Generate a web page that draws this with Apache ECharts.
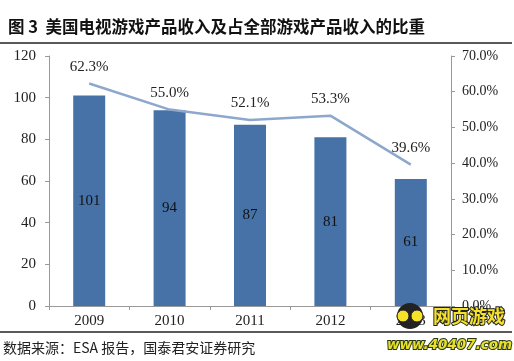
<!DOCTYPE html>
<html><head><meta charset="utf-8">
<script src="https://cdn.jsdelivr.net/npm/echarts@6/dist/echarts.min.js"></script>
<style>html,body{margin:0;padding:0;background:#fff}#c{width:514px;height:361px}</style>
</head><body><div id="c"></div>
<script>
const categories = ['2009','2010','2011','2012','2013'];
const revenue = [101, 94, 87, 81, 61];
const share = [62.3, 55.0, 52.1, 53.3, 39.6];
const leftTicks = [0, 20, 40, 60, 80, 100, 120];
const rightTicks = [0, 10, 20, 30, 40, 50, 60, 70];

const serif = '"Liberation Serif","DejaVu Serif",serif';
const cjk = '"Noto Sans CJK SC",sans-serif';
const chart = echarts.init(document.getElementById('c'));
chart.setOption({
  animation: false,
  backgroundColor: '#fff',
  title: {
    text: '图 3  美国电视游戏产品收入及占全部游戏产品收入的比重',
    left: 3, top: 13,
    textStyle: {fontFamily: cjk, fontSize: 16.5, fontWeight: 'bold', color: '#111'}
  },
  graphic: [
    {type: 'line', shape: {x1: 0, y1: 43, x2: 512, y2: 43}, style: {stroke: '#222', lineWidth: 1.5}},
    {type: 'line', shape: {x1: 0, y1: 332, x2: 512, y2: 332}, style: {stroke: '#222', lineWidth: 1.5}},
    {type: 'text', left: 3, top: 341, style: {text: '数据来源：ESA 报告，国泰君安证券研究', font: '14px ' + cjk, fill: '#222'}},
    {type: 'text', left: 432, top: 306, style: {text: '网页游戏', font: 'bold 18px ' + cjk, fill: '#f5e12a', stroke: '#222', lineWidth: 2}, z: 10},
    {type: 'text', left: 386, top: 337, style: {text: 'www.40407.com', font: 'italic bold 13.5px "DejaVu Sans",sans-serif', fill: '#e8e02a', stroke: '#2a3a10', lineWidth: 2}, z: 10},
    {type: 'circle', shape: {cx: 410, cy: 316, r: 13}, style: {fill: '#222'}, z: 10},
    {type: 'circle', shape: {cx: 403, cy: 316, r: 6}, style: {fill: '#f5e12a', stroke: '#222'}, z: 11},
    {type: 'circle', shape: {cx: 417, cy: 316, r: 6}, style: {fill: '#f5e12a', stroke: '#222'}, z: 11}
  ],
  grid: {left: 49, right: 63, top: 56, bottom: 55},
  xAxis: {
    type: 'category', data: categories,
    axisLine: {lineStyle: {color: '#999'}},
    axisTick: {show: true, length: 4, lineStyle: {color: '#999'}},
    axisLabel: {fontFamily: serif, fontSize: 15, color: '#222', margin: 8}
  },
  yAxis: [
    {type: 'value', min: 0, max: 120, interval: 20,
     axisLine: {show: true, lineStyle: {color: '#999'}},
     axisTick: {show: true, length: 4, lineStyle: {color: '#999'}},
     splitLine: {show: false},
     axisLabel: {fontFamily: serif, fontSize: 15, color: '#222', margin: 13}},
    {type: 'value', min: 0, max: 70, interval: 10,
     axisLine: {show: true, lineStyle: {color: '#999'}},
     axisTick: {show: true, length: 4, lineStyle: {color: '#999'}},
     splitLine: {show: false},
     axisLabel: {fontFamily: serif, fontSize: 14, color: '#222', margin: 11,
       formatter: v => v.toFixed(1) + '%'}}
  ],
  series: [
    {type: 'bar', data: revenue, barWidth: 32, yAxisIndex: 0,
     itemStyle: {color: '#4672A8'},
     label: {show: true, position: 'inside', fontFamily: serif, fontSize: 15, color: '#111'}},
    {type: 'line', data: share, yAxisIndex: 1, symbol: 'circle', symbolSize: 0.1,
     lineStyle: {color: '#8DA8CC', width: 2.5},
     itemStyle: {color: '#8DA8CC'},
     label: {show: true, position: 'top', distance: 9, fontFamily: serif, fontSize: 15, color: '#222',
       formatter: p => p.value.toFixed(1) + '%'}}
  ]
});
</script></body></html>
